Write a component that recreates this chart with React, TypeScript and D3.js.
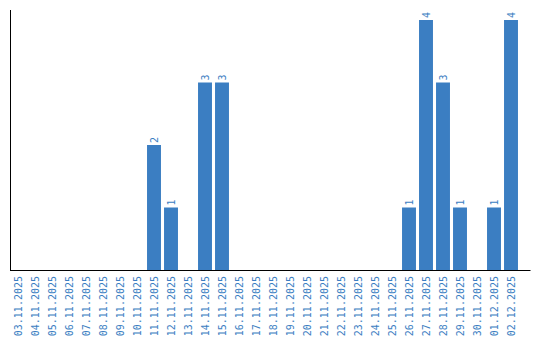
import React from "react";
import * as d3 from "d3";

const dates = [
  "03.11.2025","04.11.2025","05.11.2025","06.11.2025","07.11.2025","08.11.2025",
  "09.11.2025","10.11.2025","11.11.2025","12.11.2025","13.11.2025","14.11.2025",
  "15.11.2025","16.11.2025","17.11.2025","18.11.2025","19.11.2025","20.11.2025",
  "21.11.2025","22.11.2025","23.11.2025","24.11.2025","25.11.2025","26.11.2025",
  "27.11.2025","28.11.2025","29.11.2025","30.11.2025","01.12.2025","02.12.2025",
];
const counts = [0,0,0,0,0,0,0,0,2,1,0,3,3,0,0,0,0,0,0,0,0,0,0,1,4,3,1,0,1,4];

const W = 540;
const H = 340;
const COLOR = "#3b7ec2";
const FONT = "'DejaVu Sans Mono', monospace";

export default function App() {
  const x = d3
    .scaleBand<string>()
    .domain(dates)
    .range([9.5, 519.5])
    .paddingInner(0.18)
    .paddingOuter(0.09);
  const yMax = (d3.max(counts) ?? 1) * 1.04;
  const y = d3.scaleLinear().domain([0, yMax]).range([270, 10]);

  return (
    <svg
      width={W}
      height={H}
      style={{ position: "absolute", left: 0, top: 0, display: "block" }}
    >
      <rect width={W} height={H} fill="#ffffff" />
      {dates.map((d, i) =>
        counts[i] > 0 ? (
          <rect
            key={"b" + d}
            x={x(d)}
            y={y(counts[i])}
            width={x.bandwidth()}
            height={y(0) - y(counts[i])}
            fill={COLOR}
          />
        ) : null
      )}
      {dates.map((d, i) =>
        counts[i] > 0 ? (
          <text
            key={"v" + d}
            transform={`translate(${(x(d) ?? 0) + x.bandwidth() / 2},${y(counts[i]) - 2}) rotate(-90)`}
            dy="0.35em"
            textAnchor="start"
            fontFamily={FONT}
            fontSize={10}
            fill={COLOR}
          >
            {counts[i]}
          </text>
        ) : null
      )}
      {dates.map((d) => (
        <text
          key={"l" + d}
          transform={`translate(${(x(d) ?? 0) + x.bandwidth() / 2},276) rotate(-90)`}
          dy="0.35em"
          textAnchor="end"
          fontFamily={FONT}
          fontSize={10}
          fill={COLOR}
        >
          {d}
        </text>
      ))}
      <line x1={10.5} x2={10.5} y1={10} y2={270} stroke="#000" strokeWidth={1} />
      <line x1={10} x2={530.5} y1={270.5} y2={270.5} stroke="#000" strokeWidth={1} />
    </svg>
  );
}
